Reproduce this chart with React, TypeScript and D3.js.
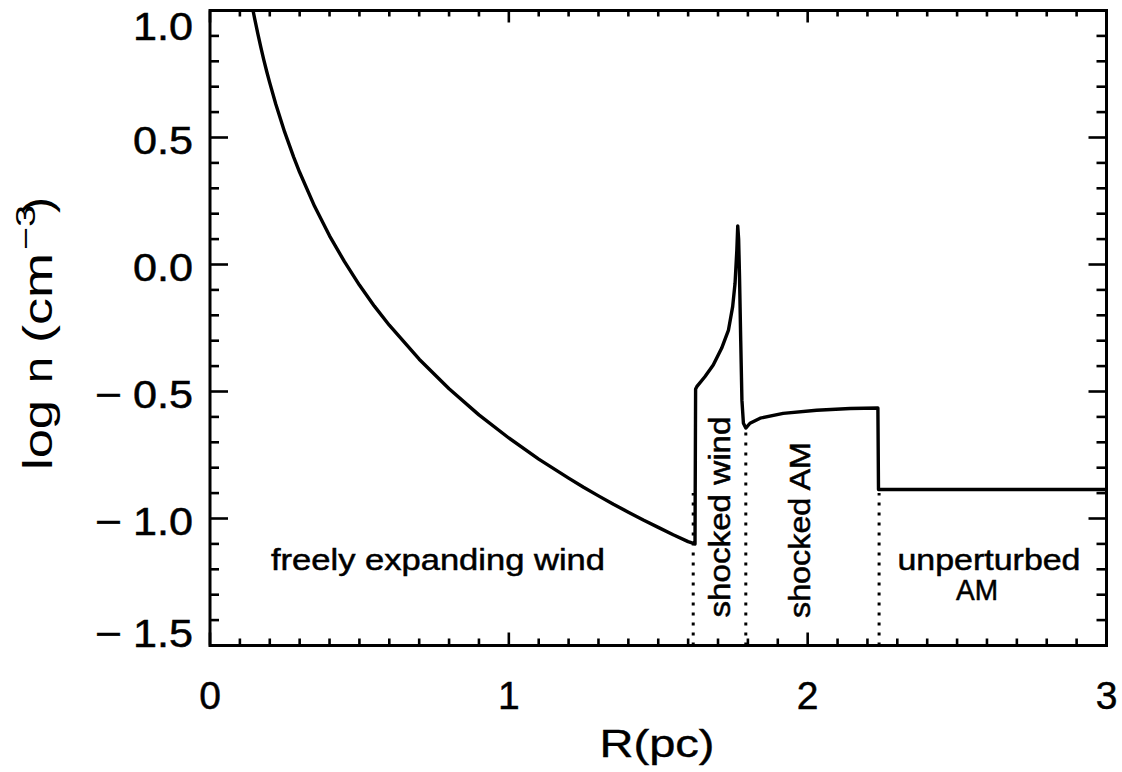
import React from "react";
import * as d3 from "d3";

const W = 1122;
const H = 772;

// density profile (R in pc, log n in cm^-3)
const radius = [
  0.144, 0.15, 0.16, 0.17, 0.18, 0.19, 0.2, 0.22, 0.25, 0.28, 0.3, 0.35, 0.4, 0.45, 0.5, 0.55, 0.6, 0.7, 0.8, 0.9,
  1.0, 1.1, 1.2, 1.25, 1.3, 1.35, 1.4, 1.45, 1.5, 1.55, 1.6, 1.623,
  1.625, 1.629, 1.656, 1.684, 1.712, 1.735, 1.749, 1.757, 1.763, 1.766, 1.769, 1.772, 1.776, 1.78, 1.785, 1.793,
  1.807, 1.841, 1.918, 2.03, 2.142, 2.235,
  2.237, 3.0,
];
const logDensity = [
  1.0, 0.965, 0.909, 0.856, 0.806, 0.759, 0.715, 0.632, 0.521, 0.423, 0.363, 0.229, 0.113, 0.011, -0.081, -0.164, -0.239, -0.373, -0.489, -0.592,
  -0.683, -0.766, -0.841, -0.877, -0.911, -0.944, -0.975, -1.006, -1.035, -1.064, -1.091, -1.1,
  -0.49, -0.481, -0.442, -0.396, -0.33, -0.258, -0.166, -0.074, 0.057, 0.152, 0.1, -0.05, -0.3, -0.534, -0.625, -0.644,
  -0.625, -0.605, -0.586, -0.574, -0.567, -0.565,
  -0.886, -0.886,
];

// region boundaries (dotted lines)
const boundaryR = [1.617, 1.793, 2.239];
const boundaryTop = [-0.9, -0.66, -0.9];

const xMajor = [0, 1, 2, 3];
const yMajor = [-1.5, -1.0, -0.5, 0.0, 0.5, 1.0];
const yTickLabels = ["−1.5", "−1.0", "−0.5", "0.0", "0.5", "1.0"];

const FONT = "'Liberation Sans', Arial, 'DejaVu Sans', sans-serif";

export default function App() {
  const x = d3.scaleLinear().domain([0, 3]).range([210, 1106.5]);
  const y = d3.scaleLinear().domain([-1.5, 1.0]).range([645.5, 10.5]);

  const pts: [number, number][] = radius.map((r, i) => [r, logDensity[i]]);
  const line = d3
    .line<[number, number]>()
    .x((d) => x(d[0]))
    .y((d) => y(d[1]))
    .curve(d3.curveLinear);

  const xMinor = d3.range(0, 3.0001, 0.1).filter((v) => Math.abs(v - Math.round(v)) > 1e-6);
  const yMinor = d3.range(-1.5, 1.0001, 0.1).filter((v) => Math.abs(v * 2 - Math.round(v * 2)) > 1e-6);

  const [x0, x1] = x.range();
  const [yb, yt] = y.range();

  const tickStroke = 2.6;

  return (
    <svg
      width={W}
      height={H}
      style={{ position: "absolute", left: 0, top: 0, background: "#fff" }}
      fontFamily={FONT}
    >
      <rect x={0} y={0} width={W} height={H} fill="#fff" />
      <defs>
        <clipPath id="plotclip">
          <rect x={x0} y={yt} width={x1 - x0} height={yb - yt} />
        </clipPath>
      </defs>

      {/* ticks */}
      <g stroke="#000" strokeWidth={tickStroke}>
        {xMajor.map((v) => (
          <g key={"xM" + v}>
            <line x1={x(v)} x2={x(v)} y1={yb} y2={yb - 13} />
            <line x1={x(v)} x2={x(v)} y1={yt} y2={yt + 12} />
          </g>
        ))}
        {xMinor.map((v) => (
          <g key={"xm" + v.toFixed(1)}>
            <line x1={x(v)} x2={x(v)} y1={yb} y2={yb - 7} />
            <line x1={x(v)} x2={x(v)} y1={yt} y2={yt + 6} />
          </g>
        ))}
        {yMajor.map((v) => (
          <g key={"yM" + v}>
            <line x1={x0} x2={x0 + 18} y1={y(v)} y2={y(v)} />
            <line x1={x1} x2={x1 - 18} y1={y(v)} y2={y(v)} />
          </g>
        ))}
        {yMinor.map((v) => (
          <g key={"ym" + v.toFixed(1)}>
            <line x1={x0} x2={x0 + 9} y1={y(v)} y2={y(v)} />
            <line x1={x1} x2={x1 - 10} y1={y(v)} y2={y(v)} />
          </g>
        ))}
      </g>

      {/* dotted boundaries */}
      <g stroke="#000" strokeWidth={3} strokeDasharray="3 7" strokeLinecap="butt">
        {boundaryR.map((r, i) => (
          <line key={"b" + i} x1={x(r)} x2={x(r)} y1={y(-1.5)} y2={y(boundaryTop[i])} />
        ))}
      </g>

      {/* curve */}
      <path
        d={line(pts) || ""}
        fill="none"
        stroke="#000"
        strokeWidth={3.4}
        strokeLinejoin="round"
        clipPath="url(#plotclip)"
      />

      {/* frame */}
      <rect x={x0} y={yt} width={x1 - x0} height={yb - yt} fill="none" stroke="#000" strokeWidth={3} />

      {/* y tick labels */}
      <g fontSize={38} fill="#000" stroke="#000" strokeWidth={0.5}>
        {yMajor.map((v, i) => {
          const base = Math.min(647, Math.max(40, y(v) + 16));
          const lab = yTickLabels[i];
          const neg = lab.startsWith("−");
          const num = neg ? lab.slice(1) : lab;
          return (
            <g key={"yl" + v}>
              <text x={193} y={base} textAnchor="end" textLength={60} lengthAdjust="spacingAndGlyphs">
                {num}
              </text>
              {neg && (
                <text x={95} y={base} textLength={27} lengthAdjust="spacingAndGlyphs">
                  −
                </text>
              )}
            </g>
          );
        })}
      </g>

      {/* x tick labels */}
      <g fontSize={39} fill="#000" stroke="#000" strokeWidth={0.5} textAnchor="middle">
        {xMajor.map((v) => (
          <text key={"xl" + v} x={x(v)} y={709}>
            {String(v)}
          </text>
        ))}
      </g>

      {/* axis titles */}
      <text x={657} y={757} fontSize={39} stroke="#000" strokeWidth={0.4} textAnchor="middle" textLength={115} lengthAdjust="spacingAndGlyphs">
        R(pc)
      </text>
      <g transform="translate(52,470) rotate(-90)" fontSize={40} fill="#000">
        <text x={0} y={0} textLength={70} lengthAdjust="spacingAndGlyphs">log</text>
        <text x={87} y={0} textLength={26} lengthAdjust="spacingAndGlyphs">n</text>
        <text x={127} y={0} textLength={90} lengthAdjust="spacingAndGlyphs">(cm</text>
        <text x={220} y={-17} fontSize={28} textLength={45} lengthAdjust="spacingAndGlyphs">−3</text>
        <text x={257} y={0} textLength={16} lengthAdjust="spacingAndGlyphs">)</text>
      </g>

      {/* region annotations */}
      <g fontSize={29} fill="#000" stroke="#000" strokeWidth={0.5}>
        <text x={438} y={570} textAnchor="middle" textLength={334} lengthAdjust="spacingAndGlyphs">
          freely expanding wind
        </text>
        <text
          transform="translate(730,517) rotate(-90)"
          textAnchor="middle"
          textLength={201}
          lengthAdjust="spacingAndGlyphs"
        >
          shocked wind
        </text>
        <text
          transform="translate(810,530) rotate(-90)"
          textAnchor="middle"
          textLength={176}
          lengthAdjust="spacingAndGlyphs"
        >
          shocked AM
        </text>
        <text x={989} y={570} textAnchor="middle" textLength={183} lengthAdjust="spacingAndGlyphs">
          unperturbed
        </text>
        <text x={977} y={600} textAnchor="middle" textLength={42} lengthAdjust="spacingAndGlyphs">
          AM
        </text>
      </g>
    </svg>
  );
}
